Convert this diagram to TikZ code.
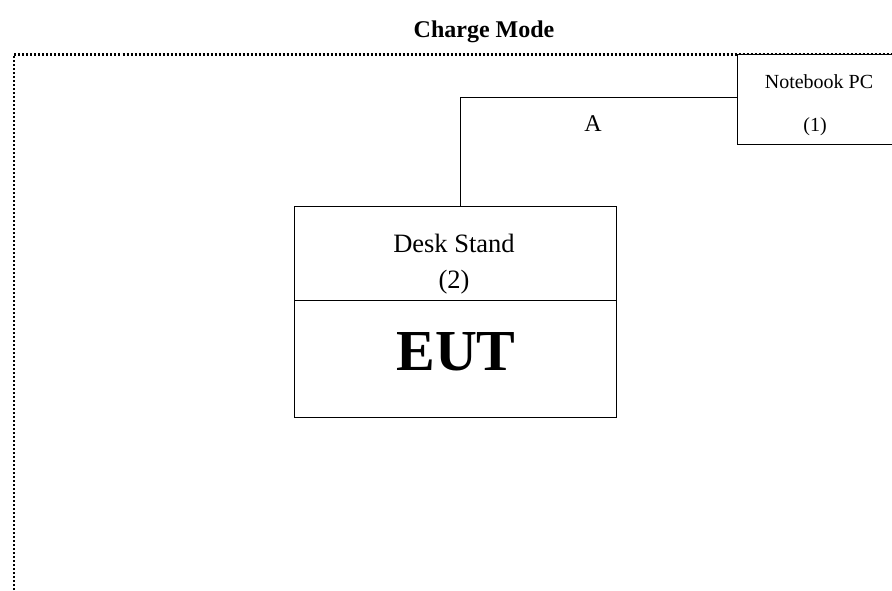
\documentclass[tikz,border=0pt]{standalone}
\usepackage{fontspec}
\setmainfont{Liberation Serif}
\begin{document}
\begin{tikzpicture}[x=1pt,y=-1pt,
  boxline/.style={draw=black,line width=0.9pt},
  lbl/.style={inner sep=0pt,anchor=center},
  dotborder/.style={line width=2.2pt,dash pattern=on 2pt off 2pt}]
\useasboundingbox (0,0) rectangle (892,590);
\clip (0,0) rectangle (892,590);
% dotted border
\draw[dotborder] (14,610) -- (14,54.5) -- (900,54.5);
% title
\node[lbl,font=\fontsize{24}{28}\selectfont\bfseries] (title) at (484,32) {Charge Mode};
% notebook box
\draw[boxline,fill=white] (737,54) rectangle (905,144);
\node[lbl,font=\fontsize{20}{22}\selectfont] (nbtext) at (819,82) {Notebook PC};
\node[lbl,font=\fontsize{20}{22}\selectfont] (nbnum) at (815,127) {(1)};
\coordinate (nb) at (737,97);
% desk stand / EUT box
\draw[boxline] (294,206) rectangle (616,417);
\draw[boxline] (294,300) -- (616,300);
\coordinate (ds) at (460.5,206);
\node[lbl,font=\fontsize{26.5}{30}\selectfont] (dstext) at (454,243) {Desk Stand};
\node[lbl,font=\fontsize{26.5}{30}\selectfont] (dsnum) at (454,282) {(2)};
\node[lbl,font=\fontsize{58}{60}\selectfont\bfseries] (eut) at (456,352) {EUT};
% cable
\draw[boxline] (nb) -- (ds |- nb) -- (ds);
\node[lbl,font=\fontsize{24}{28}\selectfont] (cableA) at (593,124) {A};
\end{tikzpicture}
\end{document}
